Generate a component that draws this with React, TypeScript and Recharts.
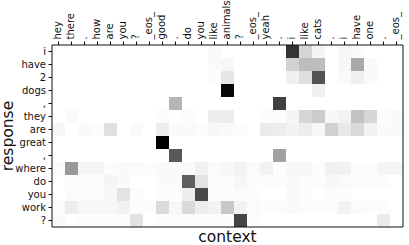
import { BarChart, Bar, Cell, XAxis, YAxis, Label } from 'recharts'

const contextTokens = [
  'hey', 'there', '.', 'how', 'are', 'you', '?', '_eos_', 'good', '.', 'do', 'you', 'like', 'animals',
  '?', '_eos_', 'yeah', '.', 'i', 'like', 'cats', '.', 'i', 'have', 'one', '.', '_eos_',
]
const responseTokens = ['i', 'have', '2', 'dogs', ',', 'they', 'are', 'great', ',', 'where', 'do', 'you', 'work', '?']

// attention weights, one array per response token (27 context columns)
const rowI = [0, 0, 0, 0, 0, 0, 0, 0, 0, 0, 0, 0, 0.02, 0, 0, 0, 0, 0, 0.8, 0.16, 0.04, 0, 0.03, 0.02, 0, 0, 0]
const rowHave = [0, 0, 0, 0, 0, 0, 0, 0, 0, 0, 0, 0, 0.02, 0.03, 0, 0, 0, 0, 0.18, 0.26, 0.26, 0, 0.03, 0.34, 0.02, 0, 0]
const row2 = [0, 0, 0, 0, 0, 0, 0, 0, 0, 0, 0, 0, 0.01, 0.1, 0, 0, 0, 0, 0.06, 0.13, 0.67, 0, 0.02, 0.06, 0.02, 0, 0]
const rowDogs = [0, 0, 0, 0, 0, 0, 0, 0, 0, 0, 0, 0, 0, 0.97, 0, 0, 0, 0, 0, 0, 0.06, 0, 0, 0, 0, 0, 0]
const rowComma1 = [0, 0, 0, 0, 0, 0, 0, 0, 0, 0.29, 0, 0, 0, 0, 0, 0, 0, 0.75, 0, 0, 0, 0, 0, 0, 0, 0, 0]
const rowThey = [0, 0.02, 0, 0, 0, 0, 0, 0, 0.01, 0, 0.01, 0, 0.07, 0.07, 0, 0, 0.01, 0.01, 0.04, 0.16, 0.2, 0.03, 0.05, 0.24, 0.16, 0.01, 0.02]
const rowAre = [0.03, 0, 0.02, 0.01, 0.12, 0, 0.02, 0, 0.07, 0.02, 0.02, 0.01, 0.03, 0.02, 0.01, 0, 0.08, 0.07, 0.05, 0.07, 0.03, 0.18, 0.09, 0.15, 0.05, 0.02, 0.02]
const rowGreat = [0, 0, 0, 0, 0, 0, 0, 0, 1, 0, 0, 0, 0, 0, 0, 0, 0, 0, 0, 0, 0, 0, 0, 0, 0, 0, 0]
const rowComma2 = [0, 0, 0, 0, 0, 0, 0, 0, 0, 0.65, 0, 0, 0, 0, 0, 0, 0, 0.37, 0, 0, 0, 0, 0, 0, 0, 0, 0]
const rowWhere = [0.02, 0.4, 0.04, 0.04, 0.01, 0.02, 0.02, 0.01, 0.02, 0.02, 0.02, 0.05, 0.02, 0.03, 0.05, 0.02, 0.05, 0.01, 0.03, 0.03, 0.01, 0.06, 0.05, 0.01, 0.01, 0.04, 0.04]
const rowDo = [0, 0.01, 0.01, 0.01, 0.04, 0.02, 0, 0, 0.02, 0.02, 0.63, 0.11, 0.01, 0.01, 0.03, 0.01, 0.01, 0.01, 0.02, 0.01, 0.01, 0.03, 0.02, 0.01, 0.01, 0.01, 0]
const rowYou = [0, 0.02, 0.01, 0.01, 0.03, 0.11, 0.01, 0, 0.01, 0.01, 0.07, 0.71, 0.01, 0.01, 0.02, 0.01, 0, 0, 0.02, 0.01, 0, 0.01, 0.01, 0, 0, 0, 0]
const rowWork = [0.01, 0.07, 0.03, 0.03, 0.03, 0.05, 0.01, 0.01, 0.14, 0.03, 0.15, 0.07, 0.05, 0.22, 0.05, 0.02, 0.01, 0.01, 0.02, 0.01, 0.01, 0.01, 0.05, 0.02, 0.01, 0.01, 0]
const rowQuestion = [0.02, 0, 0.01, 0.01, 0.01, 0.01, 0.11, 0, 0.01, 0.01, 0.01, 0.01, 0.01, 0.01, 0.73, 0.01, 0, 0, 0, 0, 0, 0, 0, 0, 0, 0.08, 0]

const weights = [
  rowI, rowHave, row2, rowDogs, rowComma1, rowThey, rowAre,
  rowGreat, rowComma2, rowWhere, rowDo, rowYou, rowWork, rowQuestion,
]

const FONT = 'DejaVu Sans, sans-serif'
const INK = '#111'

const grey = (v: number) => {
  const g = Math.round(255 * (1 - v))
  return `rgb(${g},${g},${g})`
}

// each row is a stack of unit-width cells, one per context token
const rows = responseTokens.map((_, r) => {
  const o: Record<string, number> = { idx: r }
  contextTokens.forEach((__, c) => { o['c' + c] = 1 })
  return o
})
const colTicks = contextTokens.map((_, c) => c + 0.5)

function TopTick(props: any) {
  const { x, y, payload } = props
  const label = contextTokens[Math.round(payload.value - 0.5)]
  return (
    <text transform={`translate(${x},${y}) rotate(-90)`} dy={2.5} textAnchor="start"
      fontSize={10} fontFamily={FONT} fill={INK}>{label}</text>
  )
}

function LeftTick(props: any) {
  const { x, y, payload } = props
  return (
    <text x={x} y={y} dy={3.5} textAnchor="end" fontSize={10} fontFamily={FONT} fill={INK}>
      {responseTokens[payload.value]}
    </text>
  )
}

const NoTick = () => <g />

export default function App() {
  return (
    <div style={{ position: 'absolute', left: 0, top: 0, background: '#fff' }}>
      <BarChart width={409} height={245} data={rows} layout="vertical"
        margin={{ top: 0, right: 0, bottom: 0, left: 0 }} barCategoryGap={0} barGap={0}>
        {contextTokens.map((_, c) => (
          <Bar key={c} dataKey={'c' + c} stackId="a" xAxisId="t" yAxisId="l" isAnimationActive={false}>
            {rows.map((__, r) => <Cell key={r} fill={grey(weights[r][c])} />)}
          </Bar>
        ))}
        <XAxis xAxisId="t" orientation="top" type="number" domain={[0, contextTokens.length]}
          ticks={colTicks} interval={0} height={45} tickSize={3.5} tickMargin={2}
          axisLine={{ stroke: INK }} tickLine={{ stroke: INK }} tick={<TopTick />} />
        <XAxis xAxisId="b" orientation="bottom" type="number" domain={[0, contextTokens.length]}
          ticks={colTicks} interval={0} height={18} tickSize={3.5}
          axisLine={{ stroke: INK }} tickLine={{ stroke: INK }} tick={<NoTick />}>
          <Label content={(p: any) => {
            const vb = p.viewBox || { x: 52, y: 227, width: 351, height: 18 }
            return (
              <text x={vb.x + vb.width / 2} y={vb.y + vb.height - 3} textAnchor="middle"
                fontSize={15.5} fontFamily={FONT} fill={INK}>context</text>
            )
          }} />
        </XAxis>
        <YAxis yAxisId="l" type="category" dataKey="idx" width={52} interval={0}
          tickSize={3.5} tickMargin={2.5} axisLine={{ stroke: INK }} tickLine={{ stroke: INK }}
          tick={<LeftTick />}>
          <Label content={(p: any) => {
            const vb = p.viewBox || { x: 0, y: 45, width: 52, height: 182 }
            return (
              <text transform={`translate(${vb.x + 13},${vb.y + vb.height / 2}) rotate(-90)`}
                textAnchor="middle" fontSize={15.5} fontFamily={FONT} fill={INK}>response</text>
            )
          }} />
        </YAxis>
        <YAxis yAxisId="r" orientation="right" type="category" dataKey="idx" width={6}
          axisLine={{ stroke: INK }} tickLine={false} tick={false} />
      </BarChart>
    </div>
  )
}
